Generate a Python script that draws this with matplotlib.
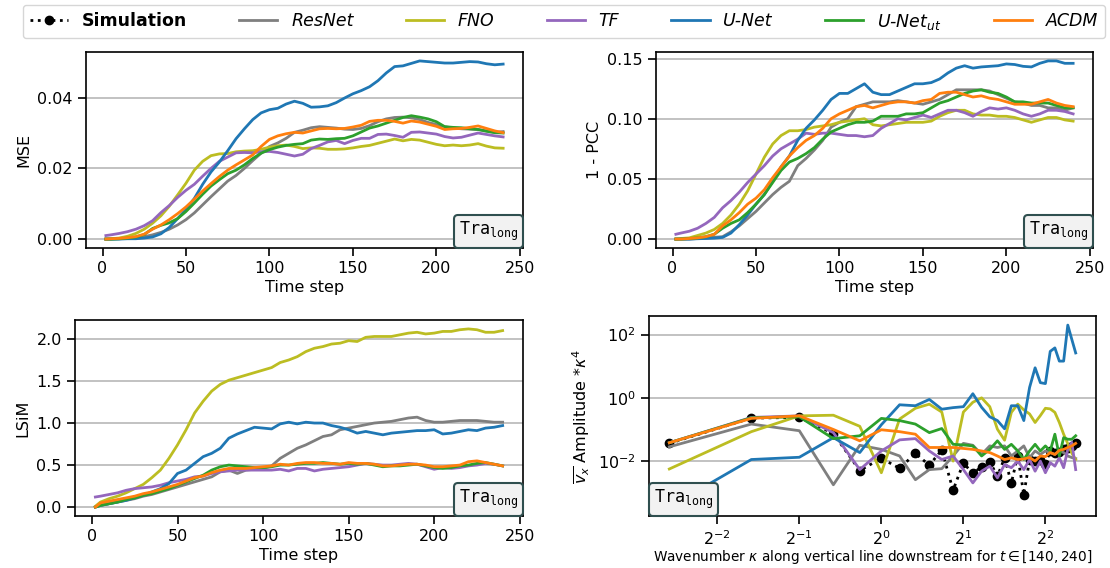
import matplotlib
matplotlib.use("Agg")
import matplotlib.pyplot as plt
import numpy as np
from matplotlib.offsetbox import AnchoredText
from matplotlib.ticker import LogFormatterSciNotation, NullLocator, FormatStrFormatter

# ---------------- data ----------------
TIME = [2, 5, 10, 15, 20, 25, 30, 35, 40, 45, 50, 55, 60, 65, 70, 75, 80, 85, 90, 95,
        100, 105, 110, 115, 120, 125, 130, 135, 140, 145, 150, 155, 160, 165, 170, 175, 180, 185, 190, 195,
        200, 205, 210, 215, 220, 225, 230, 235, 240]

MODELS = ["ResNet", "FNO", "TF", "U-Net", r"U-Net$_{ut}$", "ACDM"]
COLORS = ["#7f7f7f", "#bcbd22", "#9467bd", "#1f77b4", "#2ca02c", "#ff7f0e"]

mse_resnet = [0, 0, 0.0001, 0.0002, 0.0004, 0.0007,
              0.0012, 0.0019, 0.0028, 0.0040, 0.0055, 0.0074, 0.0097, 0.0120, 0.0142, 0.0164, 0.0180, 0.0200, 0.0222, 0.0243,
              0.0262, 0.0272, 0.0285, 0.0302, 0.0308, 0.0315, 0.0318, 0.0316, 0.0314, 0.0311, 0.0310, 0.0313, 0.0321, 0.0332, 0.0340, 0.0344, 0.0345, 0.0343, 0.0338, 0.0330,
              0.0324, 0.0318, 0.0314, 0.0312, 0.0311, 0.0310, 0.0306, 0.0302, 0.0304]
mse_fno = [0, 0.0001, 0.0003, 0.0008, 0.0016, 0.0028,
           0.0045, 0.0066, 0.0093, 0.0125, 0.0158, 0.0195, 0.0220, 0.0236, 0.0241, 0.0242, 0.0247, 0.0249, 0.0250, 0.0254,
           0.0260, 0.0264, 0.0266, 0.0262, 0.0256, 0.0258, 0.0257, 0.0254, 0.0254, 0.0255, 0.0258, 0.0262, 0.0265, 0.0271, 0.0277, 0.0283, 0.0278, 0.0282, 0.0280, 0.0274,
           0.0268, 0.0264, 0.0266, 0.0264, 0.0266, 0.0270, 0.0263, 0.0258, 0.0257]
mse_tf = [0.0010, 0.0012, 0.0016, 0.0021, 0.0028, 0.0038,
          0.0052, 0.0075, 0.0095, 0.0118, 0.0138, 0.0155, 0.0178, 0.0200, 0.0220, 0.0232, 0.0244, 0.0245, 0.0244, 0.0247,
          0.0248, 0.0245, 0.0240, 0.0235, 0.0240, 0.0256, 0.0265, 0.0275, 0.0279, 0.0270, 0.0279, 0.0285, 0.0285, 0.0296, 0.0297, 0.0293, 0.0288, 0.0302, 0.0303, 0.0300,
          0.0297, 0.0290, 0.0286, 0.0288, 0.0294, 0.0300, 0.0296, 0.0292, 0.0289]
mse_unet = [0, 0, 0, 0.0001, 0.0001, 0.0003,
            0.0006, 0.0015, 0.0033, 0.0058, 0.0084, 0.0115, 0.0155, 0.0190, 0.0218, 0.0250, 0.0284, 0.0312, 0.0338, 0.0357,
            0.0366, 0.0370, 0.0382, 0.0390, 0.0384, 0.0373, 0.0374, 0.0377, 0.0386, 0.0399, 0.0411, 0.0420, 0.0431, 0.0448, 0.0470, 0.0488, 0.0490, 0.0497, 0.0504, 0.0502,
            0.0500, 0.0498, 0.0498, 0.0500, 0.0502, 0.0501, 0.0496, 0.0493, 0.0495]
mse_unetut = [0, 0, 0.0001, 0.0003, 0.0006, 0.0013,
              0.0030, 0.0039, 0.0046, 0.0058, 0.0078, 0.0102, 0.0127, 0.0150, 0.0168, 0.0185, 0.0195, 0.0210, 0.0228, 0.0243,
              0.0253, 0.0260, 0.0265, 0.0268, 0.0270, 0.0280, 0.0283, 0.0282, 0.0284, 0.0285, 0.0292, 0.0303, 0.0314, 0.0320, 0.0328, 0.0336, 0.0344, 0.0349, 0.0345, 0.0340,
              0.0332, 0.0318, 0.0316, 0.0315, 0.0312, 0.0310, 0.0305, 0.0301, 0.0300]
mse_acdm = [0, 0.0001, 0.0002, 0.0004, 0.0007, 0.0014,
            0.0028, 0.0040, 0.0055, 0.0072, 0.0091, 0.0113, 0.0136, 0.0157, 0.0177, 0.0195, 0.0210, 0.0224, 0.0238, 0.0262,
            0.0282, 0.0292, 0.0298, 0.0302, 0.0300, 0.0306, 0.0312, 0.0313, 0.0312, 0.0313, 0.0317, 0.0322, 0.0333, 0.0336, 0.0336, 0.0333, 0.0328, 0.0334, 0.0331, 0.0325,
            0.0319, 0.0310, 0.0312, 0.0313, 0.0316, 0.0320, 0.0313, 0.0306, 0.0301]

pcc_resnet = [0, 0, 0, 0.0005, 0.001, 0.0015,
              0.002, 0.006, 0.011, 0.017, 0.023, 0.030, 0.037, 0.043, 0.048, 0.061, 0.067, 0.074, 0.082, 0.093,
              0.097, 0.100, 0.110, 0.112, 0.114, 0.114, 0.114, 0.115, 0.114, 0.113, 0.112, 0.114, 0.116, 0.120, 0.124, 0.124, 0.124, 0.124, 0.123, 0.120,
              0.117, 0.114, 0.113, 0.111, 0.111, 0.109, 0.109, 0.107, 0.109]
pcc_fno = [0, 0.0005, 0.001, 0.003, 0.005, 0.008,
           0.013, 0.020, 0.029, 0.040, 0.054, 0.068, 0.079, 0.086, 0.090, 0.090, 0.091, 0.093, 0.094, 0.095,
           0.097, 0.098, 0.099, 0.100, 0.095, 0.094, 0.095, 0.096, 0.097, 0.097, 0.097, 0.098, 0.102, 0.105, 0.107, 0.107, 0.104, 0.103, 0.103, 0.102,
           0.102, 0.101, 0.099, 0.097, 0.099, 0.101, 0.101, 0.099, 0.098]
pcc_tf = [0.004, 0.005, 0.0065, 0.009, 0.013, 0.018,
          0.026, 0.032, 0.039, 0.047, 0.054, 0.061, 0.069, 0.075, 0.079, 0.083, 0.088, 0.087, 0.088, 0.088,
          0.087, 0.086, 0.086, 0.085, 0.086, 0.092, 0.096, 0.100, 0.099, 0.101, 0.103, 0.101, 0.104, 0.107, 0.107, 0.105, 0.102, 0.106, 0.109, 0.108,
          0.109, 0.107, 0.104, 0.102, 0.104, 0.107, 0.107, 0.106, 0.104]
pcc_unet = [0, 0, 0, 0.0003, 0.0005, 0.0008,
            0.0014, 0.005, 0.012, 0.020, 0.029, 0.037, 0.048, 0.060, 0.069, 0.082, 0.092, 0.099, 0.107, 0.116,
            0.121, 0.121, 0.125, 0.129, 0.122, 0.120, 0.120, 0.123, 0.126, 0.129, 0.129, 0.130, 0.133, 0.138, 0.142, 0.144, 0.142, 0.143, 0.1435, 0.144,
            0.1455, 0.145, 0.1435, 0.143, 0.146, 0.148, 0.148, 0.146, 0.146]
pcc_unetut = [0, 0, 0.0005, 0.001, 0.002, 0.004,
              0.009, 0.013, 0.016, 0.022, 0.029, 0.037, 0.047, 0.057, 0.064, 0.067, 0.071, 0.076, 0.083, 0.089,
              0.092, 0.095, 0.097, 0.097, 0.098, 0.102, 0.102, 0.102, 0.104, 0.104, 0.105, 0.109, 0.113, 0.115, 0.118, 0.121, 0.123, 0.124, 0.122, 0.121,
              0.118, 0.114, 0.114, 0.113, 0.113, 0.113, 0.111, 0.109, 0.109]
pcc_acdm = [0, 0, 0.0005, 0.001, 0.002, 0.004,
            0.011, 0.016, 0.022, 0.029, 0.034, 0.041, 0.051, 0.060, 0.069, 0.076, 0.082, 0.086, 0.092, 0.100,
            0.104, 0.107, 0.110, 0.111, 0.109, 0.111, 0.113, 0.114, 0.114, 0.113, 0.115, 0.116, 0.121, 0.122, 0.122, 0.120, 0.118, 0.119, 0.117, 0.116,
            0.114, 0.112, 0.112, 0.112, 0.114, 0.116, 0.113, 0.111, 0.110]

lsim_resnet = [0, 0.02, 0.04, 0.06, 0.08, 0.10,
               0.13, 0.15, 0.18, 0.21, 0.24, 0.27, 0.30, 0.33, 0.36, 0.42, 0.44, 0.40, 0.44, 0.45,
               0.46, 0.49, 0.58, 0.64, 0.70, 0.74, 0.79, 0.84, 0.86, 0.92, 0.94, 0.96, 0.98, 1.00, 1.01, 1.02, 1.04, 1.06, 1.07, 1.03,
               1.01, 1.01, 1.02, 1.03, 1.03, 1.03, 1.02, 1.01, 1.01]
lsim_fno = [0.01, 0.06, 0.10, 0.13, 0.17, 0.22,
            0.27, 0.35, 0.44, 0.58, 0.74, 0.92, 1.12, 1.26, 1.38, 1.46, 1.51, 1.54, 1.57, 1.60,
            1.63, 1.66, 1.72, 1.75, 1.79, 1.85, 1.89, 1.91, 1.94, 1.95, 1.98, 1.97, 2.02, 2.03, 2.03, 2.03, 2.05, 2.07, 2.08, 2.06,
            2.07, 2.09, 2.09, 2.11, 2.12, 2.11, 2.08, 2.08, 2.10]
lsim_tf = [0.12, 0.13, 0.15, 0.17, 0.20, 0.22,
           0.23, 0.24, 0.26, 0.29, 0.31, 0.33, 0.36, 0.37, 0.40, 0.42, 0.43, 0.44, 0.44, 0.44,
           0.44, 0.44, 0.45, 0.43, 0.46, 0.46, 0.43, 0.45, 0.46, 0.47, 0.48, 0.50, 0.52, 0.51, 0.50, 0.50, 0.51, 0.52, 0.51, 0.48,
           0.45, 0.47, 0.46, 0.47, 0.49, 0.50, 0.52, 0.51, 0.49]
lsim_unet = [0, 0.02, 0.04, 0.06, 0.08, 0.11,
             0.14, 0.18, 0.22, 0.28, 0.40, 0.44, 0.52, 0.60, 0.64, 0.70, 0.82, 0.87, 0.91, 0.95,
             0.94, 0.93, 0.99, 1.01, 0.99, 1.01, 1.00, 1.00, 0.97, 0.95, 0.92, 0.88, 0.90, 0.88, 0.86, 0.88, 0.89, 0.90, 0.91, 0.91,
             0.92, 0.87, 0.88, 0.90, 0.92, 0.91, 0.94, 0.95, 0.97]
lsim_unetut = [0, 0.02, 0.04, 0.06, 0.09, 0.11,
               0.14, 0.16, 0.19, 0.22, 0.26, 0.30, 0.34, 0.38, 0.44, 0.48, 0.50, 0.49, 0.48, 0.47,
               0.47, 0.48, 0.50, 0.50, 0.51, 0.52, 0.52, 0.53, 0.52, 0.51, 0.52, 0.51, 0.52, 0.50, 0.48, 0.49, 0.49, 0.50, 0.51, 0.49,
               0.47, 0.46, 0.47, 0.49, 0.50, 0.52, 0.53, 0.51, 0.49]
lsim_acdm = [0, 0.05, 0.07, 0.09, 0.11, 0.13,
             0.16, 0.18, 0.21, 0.24, 0.27, 0.31, 0.35, 0.37, 0.41, 0.44, 0.46, 0.46, 0.46, 0.47,
             0.48, 0.49, 0.51, 0.50, 0.52, 0.53, 0.53, 0.52, 0.52, 0.51, 0.53, 0.52, 0.52, 0.51, 0.49, 0.49, 0.50, 0.51, 0.51, 0.50,
             0.48, 0.48, 0.49, 0.50, 0.54, 0.55, 0.53, 0.51, 0.49]

# spectrum: wavenumbers kappa = n/6, n = 1..31
WAVENUMBER = [1/6, 2/6, 3/6, 4/6, 5/6, 1.0, 7/6, 8/6, 9/6, 10/6, 11/6, 2.0, 13/6, 14/6, 15/6, 16/6,
              17/6, 3.0, 19/6, 20/6, 21/6, 22/6, 23/6, 4.0, 25/6, 26/6, 27/6, 28/6, 29/6, 5.0, 31/6]
spec_sim = [0.0363, 0.229, 0.240, 0.0741, 0.00501, 0.0123, 0.00589, 0.0174, 0.00741, 0.0224, 0.00120,
            0.00871, 0.00407, 0.00661, 0.00955, 0.00331, 0.0126, 0.00204, 0.0148, 0.00087, 0.0112,
            0.0100, 0.0112, 0.00794, 0.0209, 0.0178, 0.0195, 0.0245, 0.0251, 0.0302, 0.0380]
spec_resnet = [0.0282, 0.148, 0.0912, 0.00178, 0.0316, 0.0234, 0.0145, 0.00257, 0.00537, 0.00575, 0.0145,
               0.0363, 0.0316, 0.0162, 0.0302, 0.0269, 0.0302, 0.0145, 0.0209, 0.0302, 0.0129,
               0.0209, 0.0162, 0.0209, 0.0186, 0.0162, 0.0209, 0.0186, 0.0145, 0.0129, 0.0120]
spec_fno = [0.00562, 0.0851, 0.269, 0.282, 0.126, 0.00427, 0.214, 0.468, 0.631, 0.355, 0.0100,
            0.355, 0.724, 1.00, 0.525, 0.102, 0.0457, 0.347, 0.631, 0.417, 0.309,
            0.166, 0.275, 0.468, 0.447, 0.347, 0.166, 0.0708, 0.0355, 0.0178, 0.0112]
spec_tf = [0.0380, 0.240, 0.269, 0.0794, 0.00537, 0.0209, 0.0468, 0.0513, 0.0209, 0.0112, 0.0145,
           0.00537, 0.00204, 0.00479, 0.00692, 0.00295, 0.00776, 0.00617, 0.0100, 0.00537, 0.0112,
           0.00479, 0.0100, 0.00427, 0.00891, 0.00692, 0.0129, 0.00617, 0.0234, 0.0389, 0.00537]
spec_unet = [0.000355, 0.0112, 0.0132, 0.0550, 0.0186, 0.141, 0.603, 0.562, 0.891, 0.437, 0.490,
             0.525, 1.35, 0.501, 0.251, 0.191, 0.105, 0.562, 0.562, 0.191, 2.14,
             8.91, 3.02, 2.82, 29.5, 38.0, 14.5, 14.5, 200.0, 70.8, 26.3]
spec_unetut = [0.0380, 0.234, 0.251, 0.0513, 0.0631, 0.224, 0.191, 0.148, 0.0794, 0.107, 0.0339,
               0.0324, 0.0302, 0.0145, 0.0234, 0.0437, 0.0234, 0.0339, 0.0209, 0.0112, 0.0209,
               0.0339, 0.0209, 0.0302, 0.0209, 0.0708, 0.0145, 0.0550, 0.0490, 0.0490, 0.0631]
spec_acdm = [0.0380, 0.224, 0.269, 0.100, 0.0437, 0.0977, 0.0851, 0.0708, 0.0269, 0.0269, 0.0269,
             0.0251, 0.0234, 0.0209, 0.0186, 0.0145, 0.0112, 0.0126, 0.0112, 0.0117, 0.0129,
             0.0100, 0.0145, 0.0138, 0.0186, 0.0162, 0.0219, 0.0234, 0.0269, 0.0302, 0.0363]

MSE = [mse_resnet, mse_fno, mse_tf, mse_unet, mse_unetut, mse_acdm]
PCC = [pcc_resnet, pcc_fno, pcc_tf, pcc_unet, pcc_unetut, pcc_acdm]
LSIM = [lsim_resnet, lsim_fno, lsim_tf, lsim_unet, lsim_unetut, lsim_acdm]
SPEC = [spec_resnet, spec_fno, spec_tf, spec_unet, spec_unetut, spec_acdm]

# ---------------- style ----------------
plt.rcParams.update({
    "font.family": ["DejaVu Sans"],
    "font.size": 11.5,
    "axes.linewidth": 1.2,
    "xtick.major.size": 6,
    "ytick.major.size": 6,
    "xtick.major.width": 1.2,
    "ytick.major.width": 1.2,
    "lines.linewidth": 2.0,
})

W, H = 1110, 568
fig = plt.figure(figsize=(W / 100, H / 100), dpi=100)


def px_axes(left, top, right, bottom):
    return fig.add_axes([left / W, 1 - bottom / H, (right - left) / W, (bottom - top) / H])


ax_mse = px_axes(86, 52, 523, 248)
ax_pcc = px_axes(656, 52, 1093, 248)
ax_lsim = px_axes(75, 320, 523, 516)
ax_spec = px_axes(649, 316, 1096, 516)


def tra_box(ax, loc):
    at = AnchoredText(r"$\mathtt{Tra}_{\mathtt{long}}$", loc=loc, borderpad=0.0, pad=0.3,
                      frameon=True, prop=dict(size=12))
    at.patch.set_boxstyle("round,pad=0.,rounding_size=0.25")
    at.patch.set_facecolor("#f2f2f2")
    at.patch.set_edgecolor("#2f4f4f")
    at.patch.set_linewidth(1.5)
    at.set_zorder(10)
    ax.add_artist(at)


for ax, data, ylabel, yticks in [
    (ax_mse, MSE, "MSE", [0.0, 0.02, 0.04]),
    (ax_pcc, PCC, "1 - PCC", [0.0, 0.05, 0.10, 0.15]),
    (ax_lsim, LSIM, "LSiM", [0.0, 0.5, 1.0, 1.5, 2.0]),
]:
    for series, name, color in zip(data, MODELS, COLORS):
        ax.plot(TIME, series, color=color, label=name)
    ax.set_xticks([0, 50, 100, 150, 200, 250])
    ax.set_yticks(yticks)
    ax.set_xlabel("Time step", labelpad=3)
    ax.set_ylabel(ylabel)
    ax.grid(axis="y", color="#b8b8b8", lw=1.2)
    ax.set_axisbelow(True)
    tra_box(ax, "lower right")

ax_mse.yaxis.set_major_formatter(FormatStrFormatter("%.2f"))
ax_pcc.yaxis.set_major_formatter(FormatStrFormatter("%.2f"))
ax_lsim.yaxis.set_major_formatter(FormatStrFormatter("%.1f"))

# spectrum
ax = ax_spec
ax.plot(WAVENUMBER, spec_sim, linestyle=":", color="black", marker="o", markersize=6,
        lw=2, label="Simulation")
for series, name, color in zip(SPEC, MODELS, COLORS):
    ax.plot(WAVENUMBER, series, color=color, label=name)
ax.set_xscale("log", base=2)
ax.set_yscale("log")
ax.set_xticks([0.25, 0.5, 1, 2, 4])
ax.xaxis.set_major_formatter(LogFormatterSciNotation(base=2))
ax.set_yticks([1e-2, 1, 1e2])
ax.xaxis.set_minor_locator(NullLocator())
ax.yaxis.set_minor_locator(NullLocator())
ax.grid(axis="y", color="#b8b8b8", lw=1.2)
ax.set_axisbelow(True)
ax.set_xlabel(r"Wavenumber $\kappa$ along vertical line downstream for $t \in [140, 240]$",
              fontsize=9.8, labelpad=0)
ax.set_ylabel(r"$\overline{v_x}$ Amplitude $*\kappa^4$")
tra_box(ax, "lower left")

# legend
handles, labels = ax_spec.get_legend_handles_labels()
leg = fig.legend(handles, labels, loc="center", bbox_to_anchor=(564 / W, 1 - 21.5 / H),
                 ncol=7, fontsize=12.5, handlelength=2.2, columnspacing=3.0, handletextpad=0.8,
                 frameon=True, fancybox=True, borderpad=0.4)
for i, t in enumerate(leg.get_texts()):
    if i == 0:
        t.set_fontweight("bold")
    else:
        t.set_fontstyle("italic")

fig.savefig("out.png", dpi=100)
